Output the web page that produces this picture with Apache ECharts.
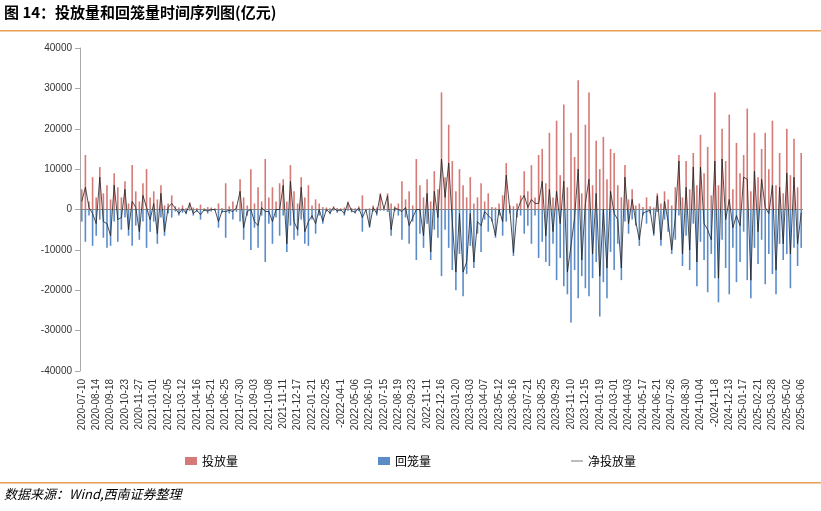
<!DOCTYPE html>
<html><head><meta charset="utf-8">
<script src="https://cdn.jsdelivr.net/npm/echarts@6/dist/echarts.min.js"></script>
<style>html,body{margin:0;padding:0;background:#fff}#c{width:821px;height:511px}</style>
</head><body><div id="c"></div>
<script>
const tickLabels=["2020-07-10","2020-08-14","2020-09-18","2020-10-23","2020-11-27","2021-01-01","2021-02-05","2021-03-12","2021-04-16","2021-05-21","2021-06-25","2021-07-30","2021-09-03","2021-10-08","2021-11-11","2021-12-17","2022-01-21","2022-02-25","-2022-04-1","2022-05-06","2022-06-10","2022-07-15","2022-08-19","2022-09-23","2022-11-11","2022-12-16","2023-01-20","2023-03-03","2023-04-07","2023-05-12","2023-06-16","2023-07-21","2023-08-25","2023-09-29","2023-11-10","2023-12-15","2024-01-19","2024-03-01","2024-04-03","2024-05-17","2024-06-21","2024-07-26","2024-08-30","2024-10-04","-2024-11-8","2024-12-13","2025-01-17","2025-02-21","2025-03-28","2025-05-02","2025-06-06"];
const invest=[5000,13500,2000,8000,3000,10500,4000,6000,2500,9000,5500,3000,7000,1500,11000,4500,2000,6500,10000,3000,
4500,2500,6000,1000,1500,3500,800,500,1000,300,1800,500,400,1200,300,600,500,300,1500,400,
6500,800,2000,1000,7500,3000,1000,10000,1500,5500,2000,12500,3000,5500,2000,6500,7500,2000,11000,4500,
1500,8000,3000,6000,1000,2500,1500,600,500,300,800,400,300,500,2000,400,300,800,3500,200,
300,1000,500,4000,500,4000,1500,800,1500,7000,2500,4500,1000,12500,6000,3000,7500,2000,9500,5000,
29000,8000,21000,12000,4500,10000,6000,3000,8000,1500,3000,6500,2000,4000,600,500,1500,3500,11500,1000,
800,1500,3500,9500,4500,11000,3000,13500,15000,6500,19000,3000,22000,8500,26000,5500,19000,13000,32000,4000,
21000,29000,6000,17000,10000,18000,7500,15000,14000,6000,3000,11000,2500,5000,1000,1500,600,3000,800,500,
4000,1500,4500,2500,1000,5500,13500,3000,12000,5000,14000,6000,18500,9000,15500,3500,29000,6000,20000,12000,
23500,5000,16500,9000,13500,25000,4500,19000,8000,15000,19000,10000,22000,6000,14000,4000,20000,8500,17500,5500,
14000];
const withdraw=[-3000,-8000,-1500,-9000,-6500,-2500,-7000,-9500,-9000,-3000,-8000,-5000,-2000,-6500,-9000,-4000,-7500,-3000,-9500,-5500,
-3000,-8500,-2000,-6500,-1000,-2000,-500,-1500,-800,-1200,-300,-1500,-600,-2500,-400,-1000,-500,-300,-4500,-800,
-7000,-1000,-2500,-600,-3000,-7500,-1500,-10000,-4500,-9500,-1500,-13000,-3500,-8500,-2000,-6500,-1500,-10500,-4000,-7500,
-6500,-2500,-8500,-9000,-2500,-6000,-1500,-3500,-500,-1200,-300,-800,-400,-1500,-300,-700,-1000,-400,-5500,-300,
-4500,-500,-1500,-300,-300,-600,-6500,-400,-1500,-7500,-2000,-8500,-3000,-12500,-6000,-9500,-3500,-12500,-5000,-7000,
-16500,-5000,-9500,-15000,-20000,-11000,-21500,-16000,-9000,-14500,-6000,-10500,-2500,-5500,-3000,-7000,-1500,-6500,-3000,-1000,
-11500,-2000,-1500,-6000,-4000,-8500,-1500,-12000,-8000,-13000,-14000,-8500,-17500,-12000,-19000,-21000,-28000,-15000,-22000,-16500,
-19500,-21500,-17000,-13000,-26500,-18000,-22000,-10500,-15000,-8500,-17500,-3000,-6000,-2500,-4000,-9000,-1500,-3500,-1000,-6500,
-600,-9000,-2500,-5500,-11000,-7500,-1500,-14000,-6500,-15000,-3500,-19000,-8000,-12500,-20500,-11000,-17000,-23000,-7500,-14500,
-21000,-9500,-18000,-13000,-5500,-17500,-22000,-9500,-13500,-7500,-18500,-11000,-16000,-21000,-8500,-12500,-11000,-19500,-9500,-14000,
-9500];
const net=[2000,5500,500,-1000,-3500,8000,-3000,-3500,-6500,6000,-2500,-2000,5000,-5000,2000,500,-5500,3500,500,-2500,
1500,-6000,4000,-5500,500,1500,300,-1000,200,-900,1500,-1000,-200,-1300,-100,-400,0,0,-3000,-400,
-500,-200,-500,400,4500,-4500,-500,0,-3000,-4000,500,-500,-500,-3000,0,0,6000,-8500,7000,-3000,
-5000,5500,-5500,-3000,-1500,-3500,0,-2900,0,-900,500,-400,-100,-1000,1700,-300,-700,400,-2000,-100,
-4200,500,-1000,3700,200,3400,-5000,400,0,-500,500,-4000,-2000,0,0,-6500,4000,-10500,4500,-2000,
12500,3000,11500,-3000,-15500,-1000,-15500,-13000,-1000,-13000,-3000,-4000,-500,-1500,-2400,-6500,0,-3000,8500,0,
-10700,-500,2000,3500,500,2500,1500,1500,7000,-6500,5000,-5500,4500,-3500,7000,-15500,-9000,-2000,10000,-12500,
1500,7500,-11000,4000,-16500,0,-14500,4500,-1000,-2500,-14500,8000,-3500,2500,-3000,-7500,-900,-500,-200,-6000,
3400,-7500,2000,-3000,-10000,-2000,12000,-11000,5500,-10000,10500,-13000,10500,-3500,-5000,-7500,12000,-17000,12500,-2500,
2500,-4500,-1500,-4000,8000,7500,-17500,9500,-5500,7500,500,-1000,6000,-15000,5500,-8500,9000,-11000,8000,-8500,
-800];
const STEP=4;
const cats=invest.map((_,i)=> i%STEP===0 ? tickLabels[i/STEP] : ' '+i);
const chart=echarts.init(document.getElementById('c'));
chart.setOption({
  animation:false,
  graphic:[
    {type:'text',left:4,top:5,style:{text:'图 14：投放量和回笼量时间序列图(亿元)',font:'bold 15px "Noto Sans CJK SC"',fill:'#000'}},
    {type:'rect',shape:{x:0,y:30,width:821,height:1.5},style:{fill:'#e8a050'}},
    {type:'rect',shape:{x:0,y:482,width:821,height:1.5},style:{fill:'#e8a050'}},
    {type:'text',left:4,top:488,style:{text:'数据来源：Wind,西南证券整理',font:'italic 13px "Noto Sans CJK SC"',fill:'#000'}}
  ],
  legend:{top:450,left:'center',itemGap:140,itemWidth:12,itemHeight:8,textStyle:{fontSize:12,color:'#000',fontFamily:'Noto Sans CJK SC'},
    data:[{name:'投放量',icon:'rect'},{name:'回笼量',icon:'rect'},{name:'净投放量',icon:'path://M0,5L20,5L20,6L0,6Z'}]},
  grid:{left:80,right:18,top:48,bottom:140},
  xAxis:{type:'category',data:cats,axisLine:{show:false},axisTick:{show:false},
    axisLabel:{interval:STEP-1,rotate:90,fontSize:10,color:'#333',margin:8,fontFamily:'Liberation Sans',formatter:v=>(!v||v.startsWith(' '))?'':v}},
  yAxis:{type:'value',min:-40000,max:40000,interval:10000,splitLine:{show:false},
    axisLine:{show:true,lineStyle:{color:'#aaa'}},axisTick:{show:true,lineStyle:{color:'#aaa'}},
    axisLabel:{fontSize:10,color:'#333',fontFamily:'Liberation Sans',formatter:v=>String(v)}},
  series:[
    {name:'投放量',type:'bar',stack:'a',data:invest,barWidth:1.6,itemStyle:{color:'#d57a76'},
      markLine:{silent:true,symbol:'none',label:{show:false},lineStyle:{color:'#888',type:'solid',width:1},data:[{yAxis:0}]}},
    {name:'回笼量',type:'bar',stack:'a',data:withdraw,barWidth:1.6,itemStyle:{color:'#5b8cc8'}},
    {name:'净投放量',type:'line',data:net,symbol:'none',lineStyle:{color:'#222',width:0.8},itemStyle:{color:'#222'},z:5}
  ]
});
</script></body></html>
